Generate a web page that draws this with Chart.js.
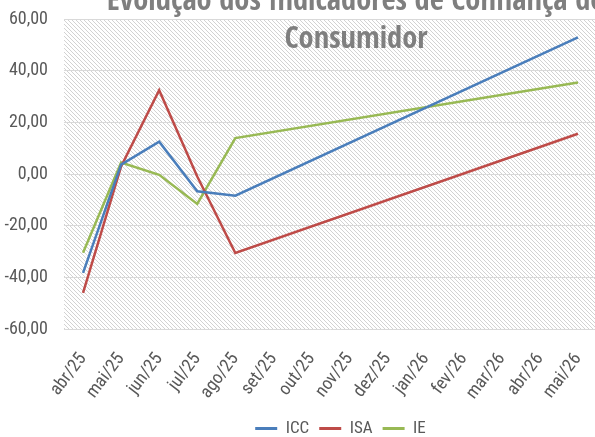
<!DOCTYPE html>
<html>
<head>
<meta charset="utf-8">
<script src="https://cdn.jsdelivr.net/npm/chart.js@4"></script>
<style>
  html, body { margin: 0; padding: 0; background: #fff; overflow: hidden; }
  #wrap { position: absolute; left: 0; top: 0; width: 620px; height: 447px; }
</style>
</head>
<body>
<div id="wrap"><canvas id="myChart"></canvas></div>
<script>
const months = ['abr/25', 'mai/25', 'jun/25', 'jul/25', 'ago/25', 'set/25', 'out/25',
  'nov/25', 'dez/25', 'jan/26', 'fev/26', 'mar/26', 'abr/26', 'mai/26'];

// only the first five months and the last one have values; the gap is bridged
const icc = [-38.3, 3.6, 12.5, -6.7, -8.4, null, null, null, null, null, null, null, null, 52.9];
const isa = [-46.0, 2.9, 32.4, -1.0, -30.6, null, null, null, null, null, null, null, null, 15.6];
const ie = [-30.5, 4.4, -0.3, -11.6, 13.9, null, null, null, null, null, null, null, null, 35.4];

const yTicks = [-60, -40, -20, 0, 20, 40, 60];

const titleLines = ['Evolução dos Indicadores de Confiança do', 'Consumidor'];

const FONT = '"Roboto Condensed", "Liberation Sans", sans-serif';
const TITLE_FONT = '"Open Sans Condensed", "Roboto Condensed", sans-serif';

// diagonal hatch for the plot area
function makeHatch() {
  const c = document.createElement('canvas');
  c.width = 4;
  c.height = 4;
  const g = c.getContext('2d');
  g.fillStyle = '#ffffff';
  g.fillRect(0, 0, 4, 4);
  g.fillStyle = '#d2d2d2';
  for (let i = 0; i < 4; i++) g.fillRect(i, i, 1, 1);
  return g.createPattern(c, 'repeat');
}

const excelLook = {
  id: 'excelLook',
  afterLayout(chart) {
    // move the legend a bit right, like the original
    const lg = chart.legend;
    if (lg) { lg.left += 10; lg.right += 10; }
  },
  beforeDraw(chart) {
    const { ctx, chartArea: a } = chart;
    ctx.save();
    ctx.fillStyle = makeHatch();
    ctx.fillRect(a.left, a.top, a.right - a.left, a.bottom - a.top);
    ctx.restore();
  },
  afterDraw(chart) {
    const ctx = chart.ctx;
    ctx.save();
    // size the title so "Consumidor" is about as wide as in the original
    ctx.font = 'bold 30px ' + TITLE_FONT;
    const size = Math.min(34, 30 * 143 / ctx.measureText(titleLines[1]).width);
    ctx.font = 'bold ' + size.toFixed(1) + 'px ' + TITLE_FONT;
    ctx.fillStyle = '#7f7f7f';
    ctx.textAlign = 'center';
    ctx.textBaseline = 'alphabetic';
    ctx.fillText(titleLines[0], 356, 9.5);
    ctx.fillText(titleLines[1], 356, 48);
    ctx.restore();
  }
};

const line = (label, data, color) => ({
  label: label,
  data: data,
  borderColor: color,
  backgroundColor: color,
  borderWidth: 2.5,
  pointRadius: 0,
  tension: 0,
  spanGaps: true,
  fill: false
});

new Chart(document.getElementById('myChart'), {
  type: 'line',
  data: {
    labels: months,
    datasets: [
      line('ICC', icc, '#4a7ebb'),
      line('ISA', isa, '#be4b48'),
      line('IE', ie, '#98b954')
    ]
  },
  plugins: [excelLook],
  options: {
    responsive: true,
    maintainAspectRatio: false,
    animation: false,
    layout: { padding: { top: 19, right: 23, bottom: 0, left: 0 } },
    plugins: {
      title: { display: false },
      tooltip: { enabled: false },
      legend: {
        position: 'bottom',
        fullSize: false,
        labels: {
          boxWidth: 22,
          boxHeight: 3,
          padding: 10,
          color: '#595959',
          font: { family: FONT, size: 17 },
          generateLabels(chart) {
            return chart.data.datasets.map((ds, i) => ({
              text: ds.label,
              fillStyle: ds.borderColor,
              strokeStyle: ds.borderColor,
              lineWidth: 0,
              hidden: false,
              datasetIndex: i,
              fontColor: '#595959'
            }));
          }
        }
      }
    },
    scales: {
      x: {
        offset: true,
        grid: { display: false },
        border: { display: false },
        ticks: {
          padding: 12,
          color: '#595959',
          font: { family: FONT, size: 18 },
          minRotation: 53,
          maxRotation: 53,
          autoSkip: false
        },
        afterFit(scale) { scale.height = 81; }
      },
      y: {
        min: -60,
        max: 60,
        grid: {
          color: '#d9d9d9',
          lineWidth: 1,
          drawTicks: true,
          tickLength: 13,
          tickColor: 'rgba(0,0,0,0)'
        },
        border: { display: false },
        afterBuildTicks(scale) { scale.ticks = yTicks.map(v => ({ value: v })); },
        ticks: {
          padding: 3,
          color: '#595959',
          font: { family: FONT, size: 18 },
          callback: v => v.toFixed(2).replace('.', ',')
        },
        afterFit(scale) { scale.width = 64; }
      }
    }
  }
});
</script>
</body>
</html>
